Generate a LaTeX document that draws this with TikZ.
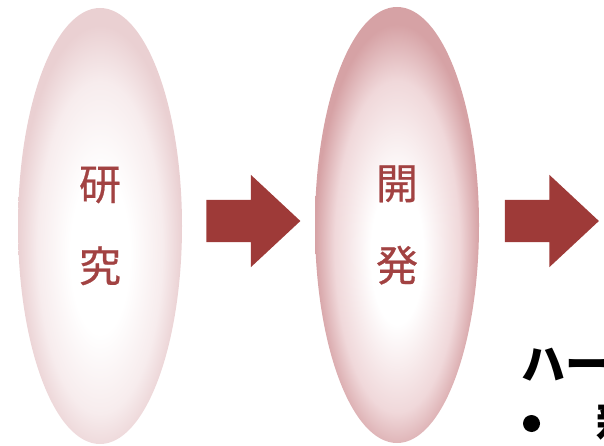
\documentclass[tikz,border=0pt]{standalone}
\usepackage{fontspec}
\newfontfamily\cjk{Noto Sans CJK JP}
\newfontfamily\cjklabel[FakeBold=0.6]{Noto Sans CJK JP}
\usetikzlibrary{shapes.geometric,shapes.arrows}
\definecolor{arrowred}{RGB}{158,58,56}
\definecolor{labelred}{RGB}{162,66,66}
\definecolor{ovAmid}{RGB}{247,236,237}
\definecolor{ovAedge}{RGB}{234,208,210}
\definecolor{ovBmid}{RGB}{240,216,218}
\definecolor{ovBedge}{RGB}{214,162,165}
\pgfdeclareradialshading{ovalA}{\pgfpoint{0bp}{-4bp}}{color(0bp)=(white); color(9bp)=(white); color(19bp)=(ovAmid); color(25bp)=(ovAedge); color(50bp)=(ovAedge)}
\pgfdeclareradialshading{ovalB}{\pgfpoint{0bp}{-4bp}}{color(0bp)=(white); color(8bp)=(white); color(19bp)=(ovBmid); color(25bp)=(ovBedge); color(50bp)=(ovBedge)}
\begin{document}
\begin{tikzpicture}[x=1pt,y=-1pt,
  oval/.style={ellipse, inner sep=0pt, minimum width=164pt, minimum height=436pt,
    align=center, text=labelred, font=\cjklabel\fontsize{42}{82}\selectfont},
  blockarrow/.style={single arrow, fill=arrowred, draw=none, inner xsep=0pt, inner ysep=21pt,
    single arrow head extend=25pt, single arrow tip angle=86,
    minimum height=94pt},
  heading/.style={font=\cjk\bfseries\fontsize{44}{44}\selectfont, text=black, inner sep=0pt}]
\useasboundingbox (0,0) rectangle (604,446);
\node[oval, shading=ovalA] (research) at (100,226) {研\\究};
\node[oval, shading=ovalB] (develop) at (397,225) {開\\発};
\node[blockarrow] (arrowA) at (242,221) {};
\node[blockarrow] (arrowB) at (540.5,221) {};
\node[heading, anchor=base west] (hw) at (521,380) {ハー};
\node[circle, fill=black, inner sep=0pt, minimum size=17pt] (dot) at (531.5,423.5) {};
\node[heading, anchor=base west] (newtext) at (596,438) {新};
\end{tikzpicture}
\end{document}
